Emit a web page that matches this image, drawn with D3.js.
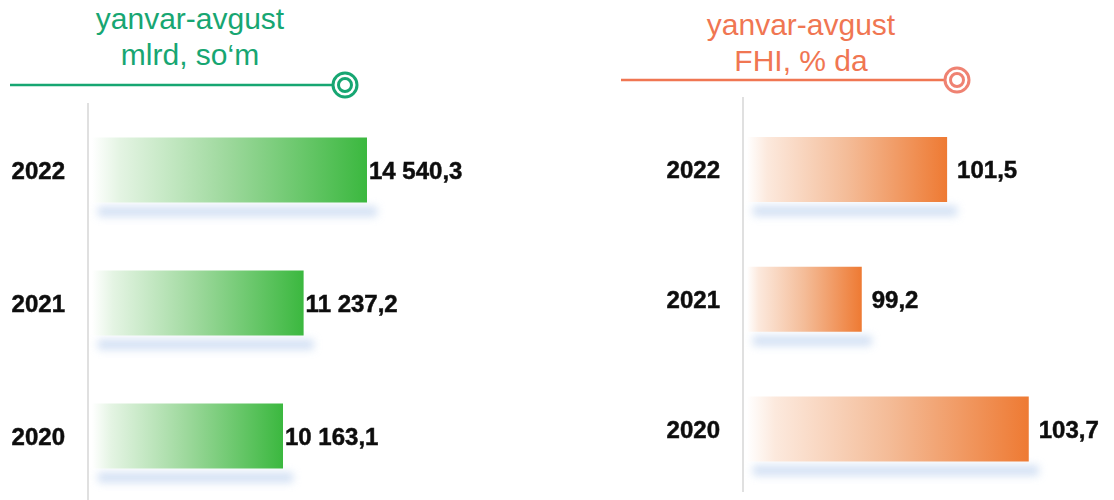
<!DOCTYPE html>
<html>
<head>
<meta charset="utf-8">
<script src="https://cdn.jsdelivr.net/npm/d3@7"></script>
<style>
  body { margin: 0; background: #fff; }
  svg { display: block; font-family: "Liberation Sans", Arial, sans-serif; }
</style>
</head>
<body>
<div id="chart"></div>
<script>
var years        = ["2022", "2021", "2020"];
var volumeValues = [14540.3, 11237.2, 10163.1];
var volumeLabels = ["14 540,3", "11 237,2", "10 163,1"];
var indexValues  = [101.5, 99.2, 103.7];
var indexLabels  = ["101,5", "99,2", "103,7"];
var volumeTitle  = ["yanvar-avgust", "mlrd, so‘m"];
var indexTitle   = ["yanvar-avgust", "FHI, % da"];

var width  = 1114;
var height = 500;

var svg = d3.select("#chart").append("svg").attr("width", width).attr("height", height);
var defs = svg.append("defs");

var blur = defs.append("filter").attr("id", "shadowBlur").attr("x", "-20%").attr("y", "-150%").attr("width", "140%").attr("height", "400%");
blur.append("feGaussianBlur").attr("stdDeviation", 4);

var textBlur = defs.append("filter").attr("id", "textSoft");
textBlur.append("feGaussianBlur").attr("stdDeviation", 0.35);

function addGradient(id, endColor, midColor, startColor) {
    var g = defs.append("linearGradient").attr("id", id).attr("x1", "0").attr("x2", "1").attr("y1", "0").attr("y2", "0");
    g.append("stop").attr("offset", "0%").attr("stop-color", "#ffffff");
    g.append("stop").attr("offset", "10%").attr("stop-color", startColor);
    g.append("stop").attr("offset", "50%").attr("stop-color", midColor);
    g.append("stop").attr("offset", "100%").attr("stop-color", endColor);
}
addGradient("greenGrad", "#3bb83f", "#9cd89b", "#e4f4e3");
addGradient("orangeGrad", "#ee7a33", "#f4bc98", "#fce9dd");

function renderPanel(opt) {

    var x = d3.scaleLinear().domain(opt.domain).range(opt.xRange);
    var y = d3.scalePoint().domain(years).range(opt.yRange);
    var barH = 65;

    var g = svg.append("g");

    // title
    g.append("text").attr("x", opt.titleX).attr("y", opt.titleY)
        .attr("text-anchor", "middle").attr("font-size", 30).attr("fill", opt.titleColor)
        .text(opt.title[0]);
    g.append("text").attr("x", opt.titleX).attr("y", opt.titleY + 36)
        .attr("text-anchor", "middle").attr("font-size", 30).attr("fill", opt.titleColor)
        .text(opt.title[1]);

    // rule + ring marker
    g.append("line").attr("x1", opt.ruleX[0]).attr("x2", opt.ruleX[1] - 12)
        .attr("y1", opt.ruleY).attr("y2", opt.ruleY)
        .attr("stroke", opt.titleColor).attr("stroke-width", 2.5);
    g.append("circle").attr("cx", opt.ruleX[1]).attr("cy", opt.ruleY).attr("r", 12)
        .attr("fill", "#fff").attr("stroke", opt.ringColor).attr("stroke-width", 3);
    g.append("circle").attr("cx", opt.ruleX[1]).attr("cy", opt.ruleY).attr("r", 6.5)
        .attr("fill", "#fff").attr("stroke", opt.ringColor).attr("stroke-width", 3);

    // vertical axis line
    g.append("line").attr("x1", x(opt.domain[0])).attr("x2", x(opt.domain[0]))
        .attr("y1", opt.axisY[0]).attr("y2", opt.axisY[1])
        .attr("stroke", "#d6d6d6").attr("stroke-width", 1.5);

    var rows = g.selectAll(".row").data(years).enter().append("g").attr("class", "row");

    // shadow
    rows.append("rect")
        .attr("x", x(opt.domain[0]) + 10)
        .attr("y", function(d){ return y(d) + barH / 2 + 4; })
        .attr("width", function(d, i){ return x(opt.values[i]) - x(opt.domain[0]); })
        .attr("height", 10)
        .attr("fill", "#c2d5f0").attr("opacity", 0.75)
        .attr("filter", "url(#shadowBlur)");

    // bar
    rows.append("rect")
        .attr("x", x(opt.domain[0]) + 4)
        .attr("y", function(d){ return y(d) - barH / 2; })
        .attr("width", function(d, i){ return x(opt.values[i]) - x(opt.domain[0]) - 4; })
        .attr("height", barH)
        .attr("fill", "url(#" + opt.gradient + ")");

    // year labels
    rows.append("text")
        .attr("x", x(opt.domain[0]) - 23)
        .attr("y", function(d){ return y(d); })
        .attr("dy", "0.36em").attr("text-anchor", "end")
        .attr("font-size", 24).attr("font-weight", "bold").attr("fill", "#111")
        .attr("stroke", "#111").attr("stroke-width", 0.5)
        .attr("filter", "url(#textSoft)")
        .text(function(d){ return d; });

    // value labels
    rows.append("text")
        .attr("x", function(d, i){ return x(opt.values[i]) + opt.labelGap; })
        .attr("y", function(d){ return y(d); })
        .attr("dy", "0.36em")
        .attr("font-size", 24).attr("font-weight", "bold").attr("fill", "#111")
        .attr("stroke", "#111").attr("stroke-width", 0.5)
        .attr("filter", "url(#textSoft)")
        .text(function(d, i){ return opt.labels[i]; });
}

renderPanel({
    values: volumeValues, labels: volumeLabels, title: volumeTitle,
    domain: [0, 16000], xRange: [88, 395], yRange: [170, 436],
    titleX: 190, titleY: 29, titleColor: "#17a672", ringColor: "#17a672",
    ruleX: [10, 345], ruleY: 85, axisY: [103, 500],
    gradient: "greenGrad", labelGap: 2
});

renderPanel({
    values: indexValues, labels: indexLabels, title: indexTitle,
    domain: [96, 105], xRange: [743, 1077], yRange: [169.5, 429],
    titleX: 801, titleY: 35, titleColor: "#f07652", ringColor: "#ef8272",
    ruleX: [621, 957], ruleY: 80, axisY: [97, 492],
    gradient: "orangeGrad", labelGap: 10
});
</script>
</body>
</html>
